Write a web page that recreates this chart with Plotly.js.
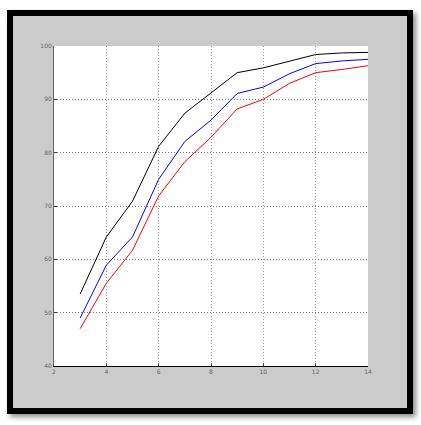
<!DOCTYPE html>
<html>
<head>
<meta charset="utf-8">
<script src="https://cdn.plot.ly/plotly-3.0.1.min.js"></script>
<style>
  body { margin: 0; background: #fff; }
  #frame {
    position: absolute; left: 7px; top: 10px;
    width: 394px; height: 392px;
    border: 6px solid #000;
    background: #cbcbcb;
    box-shadow: 3px 3px 5px rgba(0,0,0,0.45);
  }
  #chart { width: 394px; height: 392px; }
</style>
</head>
<body>
<div id="frame"><div id="chart"></div></div>
<script>
// chart values
var xs = [3, 4, 5, 6, 7, 8, 9, 10, 11, 12, 13, 14];
var black_vals = [53.5, 64.2, 70.9, 81.2, 87.4, 91.2, 95.0, 95.9, 97.2, 98.4, 98.7, 98.8];
var blue_vals  = [49.0, 58.9, 64.2, 75.0, 82.1, 86.1, 91.1, 92.3, 94.8, 96.7, 97.2, 97.5];
var red_vals   = [47.0, 55.5, 61.7, 71.9, 78.3, 82.9, 88.2, 90.0, 93.0, 95.0, 95.6, 96.3];
var xticks = [2, 4, 6, 8, 10, 12, 14];
var yticks = [40, 50, 60, 70, 80, 90, 100];

function line(y, color) {
  return {
    x: xs, y: y,
    type: 'scatter', mode: 'lines',
    line: {color: color, width: 1},
    hoverinfo: 'x+y',
  };
}

var plot_data = [
  line(black_vals, '#000000'),
  line(blue_vals, '#0000ff'),
  line(red_vals, '#ff0000'),
];

var tickfont = {family: 'DejaVu Sans', size: 6, color: '#666'};

var layout = {
  width: 394, height: 392,
  paper_bgcolor: '#cbcbcb',
  plot_bgcolor: '#ffffff',
  showlegend: false,
  margin: {l: 41, r: 39, t: 30, b: 42},
  xaxis: {
    range: [2, 14],
    tickmode: 'array', tickvals: xticks,
    ticks: 'inside', ticklen: 3, tickcolor: '#444',
    tickfont: tickfont,
    showgrid: true, gridcolor: '#999', griddash: '1px,2px', gridwidth: 1,
    showline: true, linecolor: '#000', linewidth: 1,
    zeroline: false, fixedrange: true,
  },
  yaxis: {
    range: [40, 100],
    tickmode: 'array', tickvals: yticks,
    ticks: 'inside', ticklen: 3, tickcolor: '#444',
    tickfont: tickfont,
    showgrid: true, gridcolor: '#777', griddash: '1px,2px', gridwidth: 1,
    showline: true, linecolor: '#666', linewidth: 1,
    zeroline: false, fixedrange: true,
  },
};

var config = {displayModeBar: false, staticPlot: true};

Plotly.newPlot('chart', plot_data, layout, config);
</script>
</body>
</html>
